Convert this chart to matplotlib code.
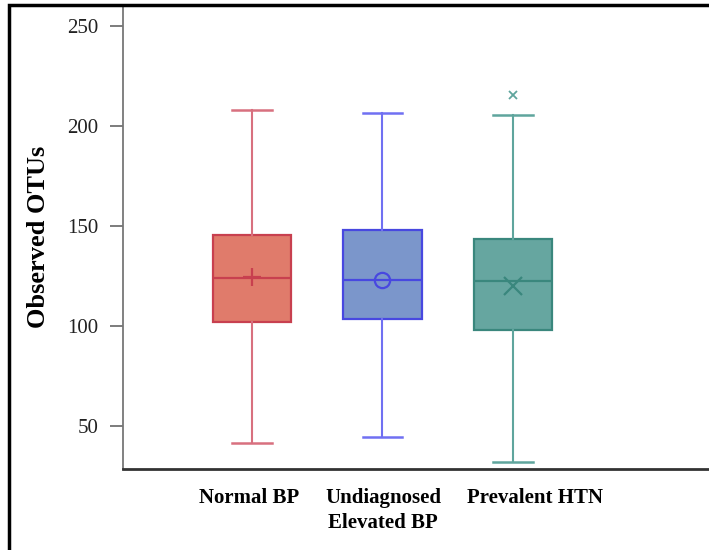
import matplotlib
matplotlib.use("Agg")
import matplotlib.pyplot as plt
from matplotlib.patches import Rectangle
from matplotlib.transforms import blended_transform_factory

plt.rcParams['font.family'] = ['Liberation Serif', 'DejaVu Serif']

# groups and box statistics
groups = ["Normal BP", "Undiagnosed\nElevated BP", "Prevalent HTN"]
label_x = [0.977, 2.004, 3.169]
whislo = [41.3, 44.5, 31.8]
q1 = [102.0, 103.5, 97.8]
med = [124.0, 123.0, 122.3]
q3 = [145.7, 147.8, 143.5]
whishi = [208.2, 206.7, 205.5]
means = [124.7, 123.0, 120.2]
fliers = [[], [], [215.5]]

fills = ["#E07B6B", "#7B96CB", "#66A6A0"]
edges = ["#C8404F", "#4848E0", "#3A877D"]
whisk = ["#D8707F", "#7070F2", "#5FA59D"]
mean_markers = ["+", "o", "x"]

fig = plt.figure(figsize=(7.09, 5.5), dpi=100)
ax = fig.add_axes([123/709, 1 - 469/550, 1 - 123/709, (469 - 5)/550])

positions = [1, 2, 3]
for i, p in enumerate(positions):
    st = dict(whislo=whislo[i], q1=q1[i], med=med[i], q3=q3[i],
              whishi=whishi[i], mean=means[i], fliers=fliers[i])
    ax.bxp([st], positions=[p], widths=0.605, capwidths=0.306,
           patch_artist=True, showmeans=True,
           boxprops=dict(facecolor=fills[i], edgecolor=edges[i], linewidth=1.6),
           medianprops=dict(color=edges[i], linewidth=1.6),
           whiskerprops=dict(color=whisk[i], linewidth=1.5),
           capprops=dict(color=whisk[i], linewidth=1.8),
           meanprops=dict(marker=mean_markers[i], markersize=13 if i != 1 else 11,
                          markeredgecolor=edges[i], markerfacecolor="none",
                          markeredgewidth=1.6),
           flierprops=dict(marker="x", markersize=6, markeredgecolor=whisk[i],
                           markeredgewidth=1.3))

ax.set_xlim(0.0115, 4.502)
ax.set_ylim(28.5, 260.5)
ax.set_yticks([50, 100, 150, 200, 250])
ax.set_xticks([])
trans = blended_transform_factory(ax.transData, ax.transAxes)
for x, g in zip(label_x, groups):
    ax.text(x, -0.041, g, transform=trans, ha="center", va="top", fontsize=15,
            fontweight="bold", linespacing=1.3)
ax.tick_params(axis="y", length=9.5, width=1.2, color="#666666", pad=8, labelsize=15,
               labelcolor="#222222")

ax.spines["top"].set_visible(False)
ax.spines["right"].set_visible(False)
ax.spines["left"].set_color("#777777")
ax.spines["left"].set_linewidth(1.3)
ax.spines["bottom"].set_color("#333333")
ax.spines["bottom"].set_linewidth(2)

ax.set_ylabel("Observed OTUs", fontsize=19, fontweight="bold")
ax.yaxis.set_label_coords(-(123 - 50)/586, 0.5)

# outer frame of the figure
fig.patches.append(Rectangle((9/709, -0.1), 1.1, 1.1 - 5/550, transform=fig.transFigure,
                             fill=False, edgecolor="black", linewidth=2.5, clip_on=False))

fig.savefig("out.png", dpi=100)
